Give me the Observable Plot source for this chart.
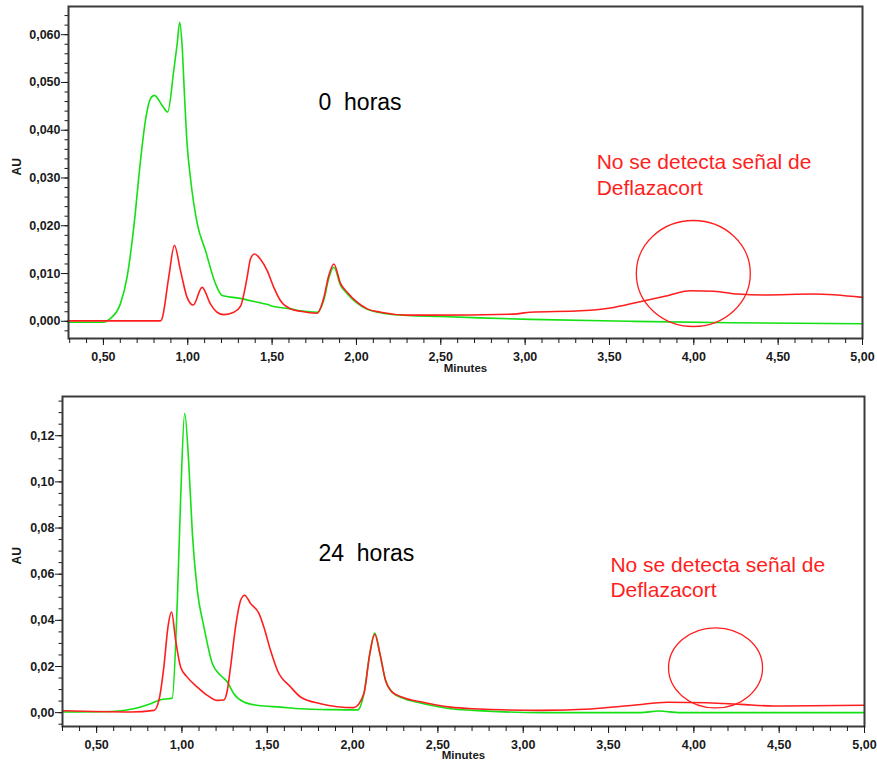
<!DOCTYPE html>
<html><head><meta charset="utf-8">
<script src="https://cdn.jsdelivr.net/npm/d3@7"></script>
<script src="https://cdn.jsdelivr.net/npm/@observablehq/plot@0.6"></script>
<style>
body{margin:0;background:#fff;}
#chart{width:877px;height:763px;overflow:hidden;}
#chart svg{display:block;}
svg text{white-space:pre;}
</style></head><body><div id="chart"></div>
<script>
// ---------- DATA ----------
// Top panel (0 horas)
const topGreenT  = [0.29, 0.50, 0.542, 0.601, 0.64, 0.68, 0.72, 0.749, 0.779, 0.802, 0.848, 0.881, 0.917, 0.937, 0.952, 0.966, 0.98, 0.996, 1.016, 1.056, 1.105, 1.164, 1.204, 1.31, 1.372, 1.473, 1.51, 1.609, 1.668, 1.767, 1.807, 1.836, 1.866, 1.906, 1.945, 2.004, 2.064, 2.143, 2.301, 2.499, 3.03, 3.626, 4.219, 5.0];
const topGreenAU = [-0.0002, -0.0002, 0.0006, 0.0037, 0.0092, 0.0197, 0.0337, 0.042, 0.0466, 0.0473, 0.0452, 0.0438, 0.0525, 0.058, 0.0626, 0.058, 0.0477, 0.0372, 0.030, 0.0205, 0.0148, 0.0079, 0.0054, 0.0048, 0.0043, 0.0035, 0.0031, 0.0026, 0.0022, 0.0019, 0.0045, 0.009, 0.0113, 0.0075, 0.0058, 0.0038, 0.0025, 0.0018, 0.0012, 0.001, 0.0004, 0.0, -0.0003, -0.0005];
const topRedT  = [0.29, 0.838, 0.848, 0.887, 0.921, 0.957, 0.996, 1.032, 1.085, 1.135, 1.174, 1.214, 1.273, 1.313, 1.352, 1.372, 1.396, 1.431, 1.471, 1.510, 1.550, 1.609, 1.668, 1.767, 1.807, 1.836, 1.866, 1.906, 1.945, 2.004, 2.064, 2.143, 2.30, 2.439, 2.932, 3.03, 3.329, 3.525, 3.667, 3.822, 3.982, 4.118, 4.26, 4.415, 4.711, 5.0];
const topRedAU = [0.0001, 0.0001, 0.0006, 0.0092, 0.0159, 0.0106, 0.005, 0.0034, 0.0071, 0.0036, 0.0019, 0.0014, 0.0019, 0.0032, 0.0092, 0.0131, 0.0141, 0.013, 0.0106, 0.0071, 0.0043, 0.0026, 0.0021, 0.0017, 0.005, 0.0096, 0.012, 0.0079, 0.0061, 0.004, 0.0026, 0.0019, 0.0013, 0.0013, 0.0015, 0.0019, 0.0022, 0.0029, 0.004, 0.0052, 0.0064, 0.0063, 0.0057, 0.0055, 0.0057, 0.005];

// Bottom panel (24 horas)
const botGreenT  = [0.30, 0.582, 0.717, 0.816, 0.875, 0.943, 0.973, 0.992, 1.016, 1.041, 1.061, 1.09, 1.129, 1.178, 1.226, 1.266, 1.304, 1.363, 1.441, 1.578, 1.695, 1.888, 2.03, 2.066, 2.101, 2.130, 2.160, 2.193, 2.232, 2.300, 2.398, 2.574, 2.709, 3.101, 3.687, 3.792, 3.92, 5.0];
const botGreenAU = [0.0003, 0.0005, 0.0017, 0.0039, 0.0056, 0.0063, 0.0487, 0.092, 0.1297, 0.1066, 0.0777, 0.053, 0.0371, 0.0213, 0.0162, 0.0133, 0.0082, 0.0046, 0.0032, 0.0024, 0.0017, 0.0013, 0.0012, 0.0082, 0.0256, 0.0345, 0.0256, 0.014, 0.0089, 0.0061, 0.0042, 0.0017, 0.001, 0.0, 0.0, 0.0007, 0.0, 0.0];
const botRedT  = [0.30, 0.70, 0.836, 0.865, 0.894, 0.918, 0.939, 0.963, 0.992, 1.031, 1.09, 1.149, 1.207, 1.246, 1.266, 1.285, 1.314, 1.344, 1.367, 1.402, 1.451, 1.48, 1.519, 1.559, 1.637, 1.695, 1.812, 2.007, 2.066, 2.101, 2.130, 2.160, 2.193, 2.232, 2.300, 2.398, 2.574, 2.709, 3.101, 3.394, 3.646, 3.845, 4.08, 4.273, 4.466, 5.0];
const botRedAU = [0.0008, 0.0003, 0.001, 0.0053, 0.0198, 0.0371, 0.0436, 0.0314, 0.0198, 0.0154, 0.0111, 0.0075, 0.0053, 0.0055, 0.0097, 0.0198, 0.0371, 0.0487, 0.0509, 0.0473, 0.043, 0.0371, 0.027, 0.0184, 0.0111, 0.0068, 0.0039, 0.0022, 0.0082, 0.0256, 0.034, 0.0256, 0.014, 0.0089, 0.0065, 0.0047, 0.0024, 0.0017, 0.001, 0.0016, 0.0032, 0.0045, 0.0043, 0.0036, 0.0029, 0.0032];

// Tick values
const xMajorTicks = [0.5, 1.0, 1.5, 2.0, 2.5, 3.0, 3.5, 4.0, 4.5, 5.0];
const topYTicks = [0, 0.01, 0.02, 0.03, 0.04, 0.05, 0.06];
const botYTicks = [0, 0.02, 0.04, 0.06, 0.08, 0.10, 0.12];

// Annotations
const topTitle = [{t: 1.775, au: 0.0458, label: "0  horas"}];
const botTitle = [{t: 1.80, au: 0.0691, label: "24  horas"}];
const topNote = [{t: 3.424, au: 0.0356, label: "No se detecta señal de\nDeflazacort"}];
const botNote = [{t: 3.511, au: 0.069, label: "No se detecta señal de\nDeflazacort"}];
const topCircle = [{t: 4.00, au: 0.0099}];
const botCircle = [{t: 4.13, au: 0.0192}];

// ---------- DRAW ----------
const GREEN = "#14e014";
const RED = "#ff1e1e";
const FONT = "Liberation Sans, Arial, sans-serif";
const comma = (d, n) => d.toFixed(n).replace(".", ",");
const zip = (ts, ys) => ts.map((t, i) => ({t, au: ys[i]}));

function ellipseMark(data, rx, ry) {
  return Plot.dot(data, {
    x: "t", y: "au", r: rx, stroke: RED, strokeWidth: 1.3, fill: "none",
    render(index, scales, values) {
      const g = d3.create("svg:g");
      for (const i of index) {
        g.append("ellipse").attr("cx", values.x[i]).attr("cy", values.y[i])
          .attr("rx", rx).attr("ry", ry).attr("fill", "none")
          .attr("stroke", RED).attr("stroke-width", 1.3);
      }
      return g.node();
    }
  });
}

function panel(cfg) {
  const xMinor = d3.range(3, 51).map(d => d / 10);
  const yMinor = d3.range(cfg.minorFrom, cfg.minorTo + 1).map(d => +(d * cfg.minorStep).toFixed(4));
  return Plot.plot({
    width: 877, height: cfg.height,
    marginTop: cfg.mt, marginBottom: cfg.mb, marginLeft: cfg.ml, marginRight: cfg.mr,
    x: {domain: cfg.xDomain},
    y: {domain: cfg.yDomain},
    style: {fontFamily: FONT, fontSize: "12.5px", color: "#1a1a1a", background: "#fff"},
    marks: [
      Plot.line(zip(cfg.gT, cfg.gAU), {x: "t", y: "au", stroke: GREEN, strokeWidth: 1.6, curve: "monotone-x"}),
      Plot.line(zip(cfg.rT, cfg.rAU), {x: "t", y: "au", stroke: RED, strokeWidth: 1.6, curve: "monotone-x"}),
      ellipseMark(cfg.circle, cfg.rx, cfg.ry),
      Plot.text(cfg.title, {x: "t", y: "au", text: "label", textAnchor: "start", fontSize: 23, fill: "#000", fontWeight: "normal"}),
      Plot.text(cfg.note, {x: "t", y: "au", text: "label", textAnchor: "start", lineAnchor: "top", lineHeight: 1.22, fontSize: 21, fill: RED}),
      Plot.frame({stroke: "#3a3a3a", strokeWidth: 2}),
      Plot.axisX({ticks: xMajorTicks, tickFormat: d => comma(d, 2), tickSize: 7, tickPadding: 7, label: null, fontWeight: "bold"}),
      Plot.axisX({ticks: xMinor, tickFormat: () => "", tickSize: 5, label: null}),
      Plot.axisY({ticks: cfg.yTicks, tickFormat: d => comma(d, cfg.dec), tickSize: 7, tickPadding: 1, label: null, fontWeight: "bold"}),
      Plot.axisY({ticks: yMinor, tickFormat: () => "", tickSize: 3.5, label: null}),
      Plot.text(["AU"], {text: d => d, frameAnchor: "left", rotate: -90, dx: cfg.auDx, dy: 3, fontSize: 12, fontWeight: "bold"}),
      Plot.text(["Minutes"], {text: d => d, frameAnchor: "bottom", dy: cfg.minDy, fontSize: 11.5, fontWeight: "bold"})
    ]
  });
}

const chart = document.getElementById("chart");
chart.append(panel({
  height: 380, mt: 6, mb: 42, ml: 68, mr: 15,
  xDomain: [0.293, 5.0], yDomain: [-0.0036, 0.0659],
  gT: topGreenT, gAU: topGreenAU, rT: topRedT, rAU: topRedAU,
  yTicks: topYTicks, dec: 3, minorFrom: -1, minorTo: 32, minorStep: 0.002,
  title: topTitle, note: topNote, circle: topCircle, rx: 57, ry: 53,
  auDx: -51, minDy: 33
}));
chart.append(panel({
  height: 383, mt: 16, mb: 37, ml: 62, mr: 13,
  xDomain: [0.30, 5.0], yDomain: [-0.006, 0.137],
  gT: botGreenT, gAU: botGreenAU, rT: botRedT, rAU: botRedAU,
  yTicks: botYTicks, dec: 2, minorFrom: -1, minorTo: 27, minorStep: 0.005,
  title: botTitle, note: botNote, circle: botCircle, rx: 47, ry: 40,
  auDx: -45, minDy: 32
}));
</script></body></html>
